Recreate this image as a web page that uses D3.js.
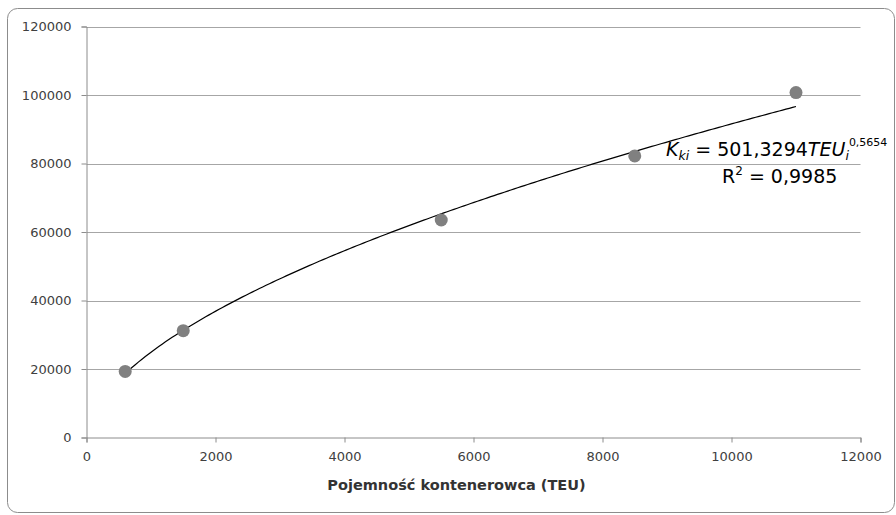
<!DOCTYPE html>
<html>
<head>
<meta charset="utf-8">
<script src="https://cdn.jsdelivr.net/npm/d3@7"></script>
<style>
  html, body { margin: 0; padding: 0; background: #fff; }
  svg { display: block; }
</style>
</head>
<body>
<svg id="chart" width="896" height="515"></svg>
<script>
// ---- data ----
const teu = [600, 1500, 5500, 8500, 11000];
const cost = [19300, 31200, 63500, 82200, 100700];
const xTicks = [0, 2000, 4000, 6000, 8000, 10000, 12000];
const yTicks = [0, 20000, 40000, 60000, 80000, 100000, 120000];
const trendA = 501.3294;
const trendB = 0.5654;
const trendRange = [600, 11000];
const xTitle = "Pojemność kontenerowca (TEU)";

const svg = d3.select("#chart");
const m = { left: 86.5, right: 860.5, top: 26.5, bottom: 437.5 };

// chart border
svg.append("rect")
  .attr("x", 7.5).attr("y", 8.5)
  .attr("width", 887).attr("height", 504)
  .attr("rx", 10).attr("ry", 10)
  .attr("fill", "#fff")
  .attr("stroke", "#8c8c8c").attr("stroke-width", 1);

const x = d3.scaleLinear().domain([0, 12000]).range([m.left, m.right]);
const y = d3.scaleLinear().domain([0, 120000]).range([m.bottom, m.top]);

const font = "'DejaVu Sans', sans-serif";

// gridlines
svg.append("g").selectAll("line").data(yTicks.filter(d => d > 0)).join("line")
  .attr("x1", m.left).attr("x2", m.right)
  .attr("y1", d => Math.round(y(d)) + 0.5).attr("y2", d => Math.round(y(d)) + 0.5)
  .attr("stroke", "#a6a6a6").attr("stroke-width", 1);

// y axis
const yAxis = d3.axisLeft(y).tickValues(yTicks).tickSize(5).tickPadding(10).tickFormat(d3.format("d"));
const gy = svg.append("g").attr("transform", `translate(${m.left},0)`).call(yAxis);
gy.select(".domain").attr("stroke", "#8c8c8c");
gy.selectAll(".tick line").attr("stroke", "#8c8c8c");
gy.selectAll(".tick text").attr("fill", "#404040").style("font-family", font).style("font-size", "13px");

// x axis
const xAxis = d3.axisBottom(x).tickValues(xTicks).tickSize(5).tickPadding(9).tickFormat(d3.format("d"));
const gx = svg.append("g").attr("transform", `translate(0,${m.bottom})`).call(xAxis);
gx.select(".domain").attr("stroke", "#8c8c8c");
gx.selectAll(".tick line").attr("stroke", "#8c8c8c");
gx.selectAll(".tick text").attr("fill", "#404040").style("font-family", font).style("font-size", "13px");

// x axis title
svg.append("text")
  .attr("x", (m.left + m.right) / 2 - 17).attr("y", 490)
  .attr("text-anchor", "middle")
  .style("font-family", font).style("font-size", "14.5px").style("font-weight", "bold")
  .attr("fill", "#333")
  .text(xTitle);

// trendline
const tx = d3.range(0, 201).map(i => trendRange[0] + (trendRange[1] - trendRange[0]) * i / 200);
const line = d3.line().x(d => x(d)).y(d => y(trendA * Math.pow(d, trendB)));
svg.append("path").datum(tx)
  .attr("d", line).attr("fill", "none")
  .attr("stroke", "#000").attr("stroke-width", 1.2);

// points
svg.append("g").selectAll("circle").data(teu.map((t, i) => [t, cost[i]])).join("circle")
  .attr("cx", d => x(d[0])).attr("cy", d => y(d[1]))
  .attr("r", 6.5).attr("fill", "#808080");

// equation
const eq = svg.append("text")
  .attr("x", 666).attr("y", 156)
  .style("font-family", font).style("font-size", "19px").attr("fill", "#000");
eq.append("tspan").style("font-style", "italic").text("K");
eq.append("tspan").style("font-style", "italic").style("font-size", "12.5px").attr("dy", 4).text("ki");
eq.append("tspan").attr("dy", -4).text(" = 501,3294");
eq.append("tspan").style("font-style", "italic").text("TEU");
eq.append("tspan").style("font-style", "italic").style("font-size", "12.5px").attr("dy", 4).text("i");
eq.append("tspan").style("font-size", "11px").attr("dy", -14).text("0,5654");

const r2 = svg.append("text")
  .attr("x", 722).attr("y", 183)
  .style("font-family", font).style("font-size", "19px").attr("fill", "#000");
r2.append("tspan").text("R");
r2.append("tspan").style("font-size", "12px").attr("dy", -8).text("2");
r2.append("tspan").attr("dy", 8).text(" = 0,9985");
</script>
</body>
</html>
